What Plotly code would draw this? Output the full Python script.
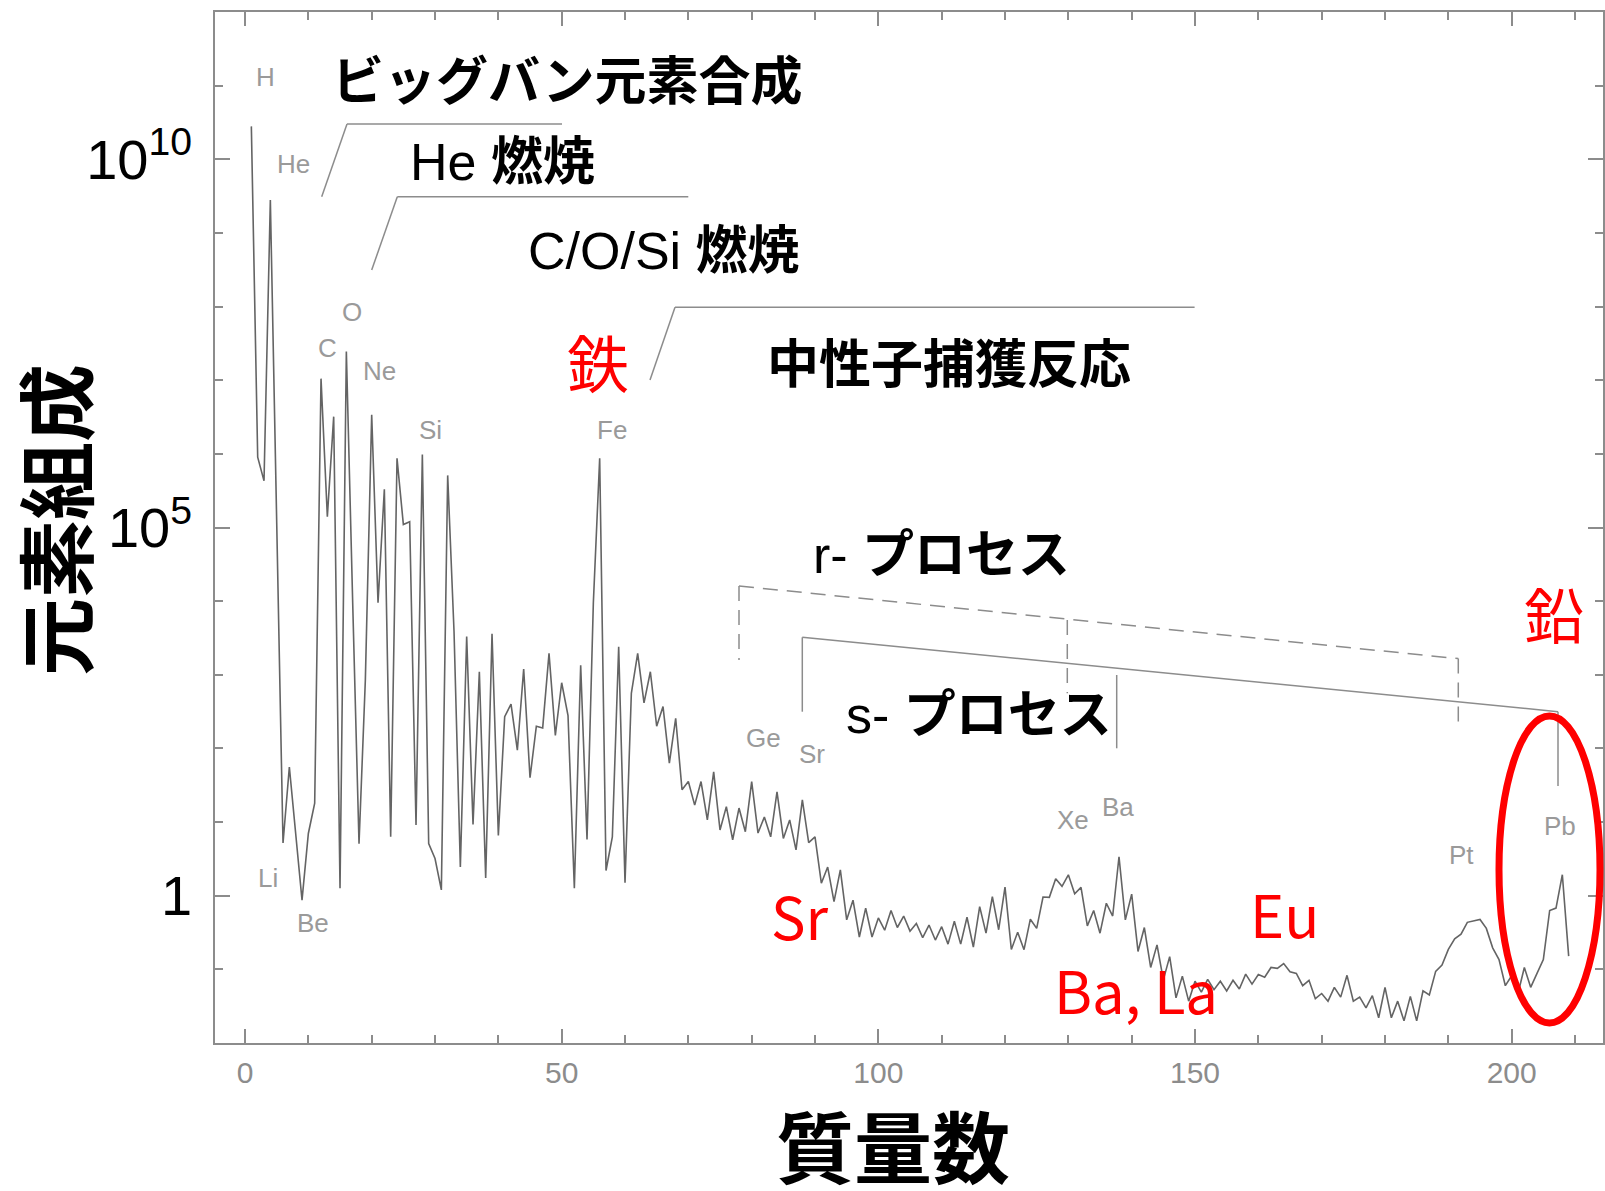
import plotly.graph_objects as go

# ---------------- data ----------------
mass_number = [1, 2, 3, 4, 6, 7] + list(range(9, 210))
abundance = [
    2.8e10, 9.0e5, 4.3e5, 2.8e9, 5.2, 56,                                   # 1-7
    0.87, 7.0, 18, 1.05e7, 1.4e5, 3.2e6, 1.26, 2.45e7, 9.5e3, 5.1,          # 9-18
    850, 3.4e6, 9.5e3, 3.3e5, 6.3, 8.7e5, 1.1e5, 1.2e5, 9.1, 9.8e5,         # 19-28
    5.1, 3.2, 1.2, 5.1e5, 3.9e3, 2.45, 3.3e3, 9.3, 1.1e3, 1.74,             # 29-38
    3.6e3, 6.6, 270, 400, 95, 1.2e3, 40, 200, 190, 1.95e3,                  # 39-48
    150, 780, 280, 1.26, 1.35e3, 5.8, 9.5e3, 8.7e5, 2.2, 6.3,               # 49-58
    2.4e3, 1.5, 560, 1.95e3, 415, 1.1e3, 200, 370, 63, 257,                 # 59-68
    27.5, 35.5, 17, 35.5, 10.7, 48, 7.8, 16.2, 5.75, 15.5,                  # 69-78
    7.4, 35.5, 7.1, 11.7, 6.3, 25.7, 6.0, 10.7, 4.2, 20,                    # 79-88
    5.25, 6.3, 1.48, 2.45, 0.83, 2.24, 0.47, 0.87, 0.275, 0.68,             # 89-98
    0.275, 0.50, 0.34, 0.63, 0.37, 0.53, 0.33, 0.42, 0.27, 0.40,            # 99-108
    0.25, 0.38, 0.22, 0.45, 0.22, 0.51, 0.20, 0.71, 0.31, 0.97,             # 109-118
    0.345, 1.31, 0.186, 0.32, 0.185, 0.48, 0.36, 0.96, 0.95, 1.7,           # 119-128
    1.34, 1.92, 1.06, 1.3, 0.39, 0.63, 0.31, 0.79, 0.53, 3.38,              # 129-138
    0.47, 1.05, 0.175, 0.37, 0.106, 0.215, 0.072, 0.149, 0.041, 0.081,      # 139-148
    0.037, 0.069, 0.049, 0.073, 0.053, 0.069, 0.051, 0.071, 0.054, 0.086,   # 149-158
    0.063, 0.085, 0.078, 0.106, 0.103, 0.12, 0.093, 0.088, 0.06, 0.071,     # 159-168
    0.04, 0.047, 0.037, 0.057, 0.042, 0.083, 0.037, 0.042, 0.03, 0.044,     # 169-178
    0.022, 0.057, 0.022, 0.037, 0.02, 0.043, 0.02, 0.051, 0.045, 0.094,     # 179-188
    0.114, 0.187, 0.26, 0.30, 0.435, 0.46, 0.475, 0.36, 0.196, 0.136,       # 189-198
    0.06, 0.082, 0.047, 0.106, 0.057, 0.088, 0.136, 0.63, 0.68, 1.93,       # 199-208
    0.151,                                                                  # 209
]

x_tickvals = [0, 50, 100, 150, 200]
y_tickvals = [1, 1e5, 1e10]
y_ticktext = ["1", "10<sup>5</sup>", "10<sup>10</sup>"]

element_names = ["H", "He", "C", "O", "Ne", "Si", "Fe", "Li", "Be",
                 "Ge", "Sr", "Xe", "Ba", "Pt", "Pb"]
element_A = [3.3, 7.6, 13.0, 16.9, 21.2, 29.3, 58.0, 3.7, 10.8,
             81.9, 89.5, 130.8, 137.9, 192.1, 207.6]
element_logy = [11.12, 9.93, 7.44, 7.93, 7.13, 6.33, 6.33, 0.24, -0.375,
                2.14, 1.93, 1.03, 1.21, 0.55, 0.94]

# ---------------- layout geometry (pixels) ----------------
W, H = 1605, 1191
L, R, T, B = 215, 1603, 12, 1043


def px(x):
    return (x - L) / (R - L)


def py(y):
    return (B - y) / (B - T)


GRAY = "#8c8c8c"
fig = go.Figure()
fig.add_trace(go.Scatter(x=mass_number, y=abundance, mode="lines",
                         line=dict(color="#646464", width=1.6),
                         hoverinfo="skip", showlegend=False))

annotations = []
# element labels (gray, small)
for name, a, ly in zip(element_names, element_A, element_logy):
    annotations.append(dict(x=a, y=ly, xref="x", yref="y", text=name,
                            showarrow=False, xanchor="center", yanchor="middle",
                            font=dict(family="Liberation Sans", size=26, color="#9a9a9a")))

# black process labels
JP = "Liberation Sans, Noto Sans CJK JP"
black_labels = [
    ("<b>ビッグバン元素合成</b>", 567, 82),
    ("He <b>燃焼</b>", 502, 162),
    ("C/O/Si <b>燃焼</b>", 664, 251),
    ("<b>中性子捕獲反応</b>", 949, 365),
    ("r- <b>プロセス</b>", 941, 555),
    ("s- <b>プロセス</b>", 979, 715),
]
for text, x, y in black_labels:
    annotations.append(dict(x=px(x), y=py(y), xref="paper", yref="paper", text=text,
                            showarrow=False, xanchor="center", yanchor="middle",
                            font=dict(family=JP, size=52, color="black")))

# red labels
red_labels = [
    ("鉄", 597.5, 361, 62),
    ("鉛", 1554, 612, 60),
    ("Sr", 800, 915, 58),
    ("Ba, La", 1135.5, 989, 58),
    ("Eu", 1284, 913, 58),
]
for text, x, y, s in red_labels:
    annotations.append(dict(x=px(x), y=py(y), xref="paper", yref="paper", text=text,
                            showarrow=False, xanchor="center", yanchor="middle",
                            font=dict(family="Noto Sans CJK JP", size=s, color="#ff0000")))

# axis titles
annotations.append(dict(x=px(893), y=py(1144), xref="paper", yref="paper",
                        text="<b>質量数</b>", showarrow=False,
                        xanchor="center", yanchor="middle",
                        font=dict(family="Noto Sans CJK JP", size=78, color="black")))
annotations.append(dict(x=px(53), y=py(520), xref="paper", yref="paper",
                        text="<b>元素組成</b>", showarrow=False, textangle=-90,
                        xanchor="center", yanchor="middle",
                        font=dict(family="Noto Sans CJK JP", size=78, color="black")))

# bracket lines
shapes = []


def seg(x0, y0, x1, y1, dash="solid", color=GRAY, width=1.5):
    shapes.append(dict(type="line", xref="paper", yref="paper",
                       x0=px(x0), y0=py(y0), x1=px(x1), y1=py(y1),
                       line=dict(color=color, width=width, dash=dash), layer="above"))


# Big-bang / He / C-O-Si / neutron capture brackets
seg(321.7, 196.7, 347.0, 124.0)
seg(347.0, 124.0, 562.0, 124.0)
seg(371.7, 270.0, 397.3, 196.7)
seg(397.3, 196.7, 688.3, 196.7)
seg(650.0, 380.0, 675.0, 307.3)
seg(675.0, 307.3, 1194.6, 307.3)
# r-process (dashed)
DASH = "15px,9px"
seg(739.0, 586.0, 739.0, 660.0, DASH)
seg(739.0, 586.0, 1458.3, 658.6, DASH)
seg(1067.3, 620.0, 1067.3, 693.3, DASH)
seg(1458.3, 658.6, 1458.3, 726.7, DASH)
# s-process (solid)
seg(802.3, 637.3, 802.3, 711.7)
seg(802.3, 637.3, 1558.0, 711.7)
seg(1116.7, 675.0, 1116.7, 748.3)
seg(1558.0, 711.7, 1558.0, 786.0)

# red ellipse around Pb
shapes.append(dict(type="circle", xref="paper", yref="paper",
                   x0=px(1499), x1=px(1600), y0=py(1023), y1=py(716),
                   line=dict(color="#ff0000", width=7), layer="above"))

fig.update_layout(
    width=W, height=H,
    margin=dict(l=L, r=W - R, t=T, b=H - B, autoexpand=False),
    paper_bgcolor="white", plot_bgcolor="white",
    showlegend=False,
    annotations=annotations,
    shapes=shapes,
    xaxis=dict(range=[-4.74, 214.42], tickmode="array", tickvals=x_tickvals,
               ticks="inside", ticklen=14, tickwidth=1.5, tickcolor=GRAY,
               showline=True, linecolor=GRAY, linewidth=1.5, mirror="ticks",
               showgrid=False, zeroline=False, ticklabelstandoff=2,
               tickfont=dict(family="Liberation Sans", size=30, color=GRAY),
               minor=dict(ticks="inside", ticklen=8, tickwidth=1.5, tickcolor=GRAY,
                          dtick=10, tick0=0, showgrid=False)),
    yaxis=dict(type="log", range=[-2, 12], tickmode="array",
               tickvals=y_tickvals, ticktext=y_ticktext,
               ticks="inside", ticklen=15, tickwidth=1.5, tickcolor=GRAY,
               showline=True, linecolor=GRAY, linewidth=1.5, mirror="ticks",
               showgrid=False, zeroline=False, ticklabelstandoff=10,
               tickfont=dict(family="Liberation Sans", size=56, color="black"),
               minor=dict(ticks="inside", ticklen=8, tickwidth=1.5, tickcolor=GRAY,
                          tickmode="array",
                          tickvals=[10.0 ** k for k in range(-2, 13)],
                          showgrid=False)),
)

fig.write_html(
    "out.html",
    config={"displayModeBar": False},
    post_script="document.body.style.margin='0';"
                "document.body.style.overflow='hidden';"
                "document.documentElement.style.overflow='hidden';",
)
